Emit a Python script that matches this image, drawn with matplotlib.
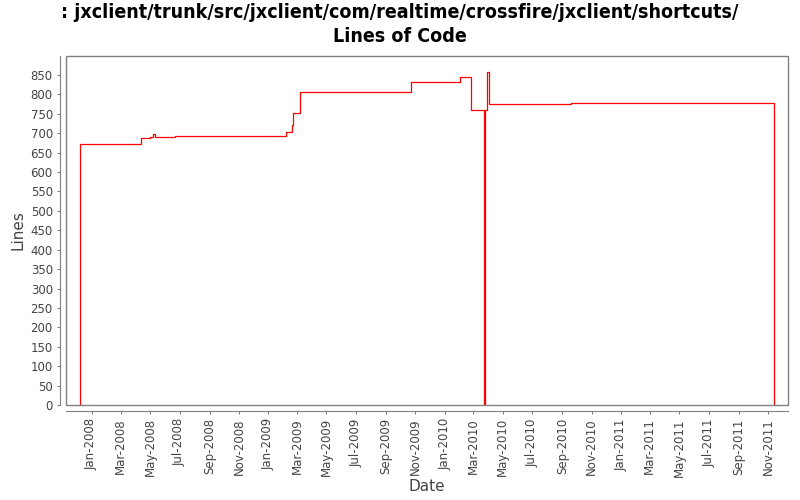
import numpy as np
import pandas as pd
import matplotlib
matplotlib.use('Agg')
import matplotlib.pyplot as plt
import matplotlib.dates as mdates
from matplotlib.patches import Rectangle

# step data (value holds until next date)
dates = ['2007-12-08', '2008-04-12', '2008-05-01', '2008-05-08', '2008-05-12',
         '2008-06-22', '2009-02-07', '2009-02-19', '2009-02-21', '2009-03-08',
         '2009-10-24', '2010-02-02', '2010-02-24', '2010-03-24', '2010-03-25',
         '2010-03-30', '2010-04-03', '2010-09-20', '2011-11-14']
lines = [672, 687, 690, 698, 690,
         692, 703, 721, 752, 806,
         832, 844, 759, 0, 759,
         857, 776, 778, 0]

x = [pd.Timestamp(d).to_pydatetime() for d in dates]

fig = plt.figure(figsize=(8, 5), dpi=100)
ax = fig.add_axes([0.0825, 0.19, 0.903, 0.698])

# vertical start from zero
ax.step([x[0]] + x, [0] + lines, where='post', color='red', lw=0.9)

ax.set_xlim(pd.Timestamp('2007-11-09').to_pydatetime(), pd.Timestamp('2011-12-13').to_pydatetime())
ax.set_ylim(0, 899)
ax.set_yticks(np.arange(0, 851, 50))

ax.xaxis.set_major_locator(mdates.MonthLocator(bymonth=[1, 3, 5, 7, 9, 11]))
ax.xaxis.set_major_formatter(mdates.DateFormatter('%b-%Y'))

grey = '#808080'
for s in ['top', 'right']:
    ax.spines[s].set_visible(False)
for s in ['left', 'bottom']:
    ax.spines[s].set_position(('outward', 4))
    ax.spines[s].set_color(grey)
ax.add_patch(Rectangle((0, 0), 1, 1, transform=ax.transAxes, fill=False,
                       edgecolor=grey, lw=1, clip_on=False, zorder=5))

ax.tick_params(axis='both', colors=grey, length=2, labelsize=8.5, labelcolor='#444444')
ax.tick_params(axis='x', labelrotation=90)

ax.set_xlabel('Date', fontsize=11, color='#444444', labelpad=2)
ax.set_ylabel('Lines', fontsize=11, color='#444444')

fig.suptitle(': jxclient/trunk/src/jxclient/com/realtime/crossfire/jxclient/shortcuts/\nLines of Code',
             fontsize=14, fontweight='bold', fontstretch='condensed', y=0.995, linespacing=1.35)

fig.savefig('out.png', dpi=100, facecolor='white')
